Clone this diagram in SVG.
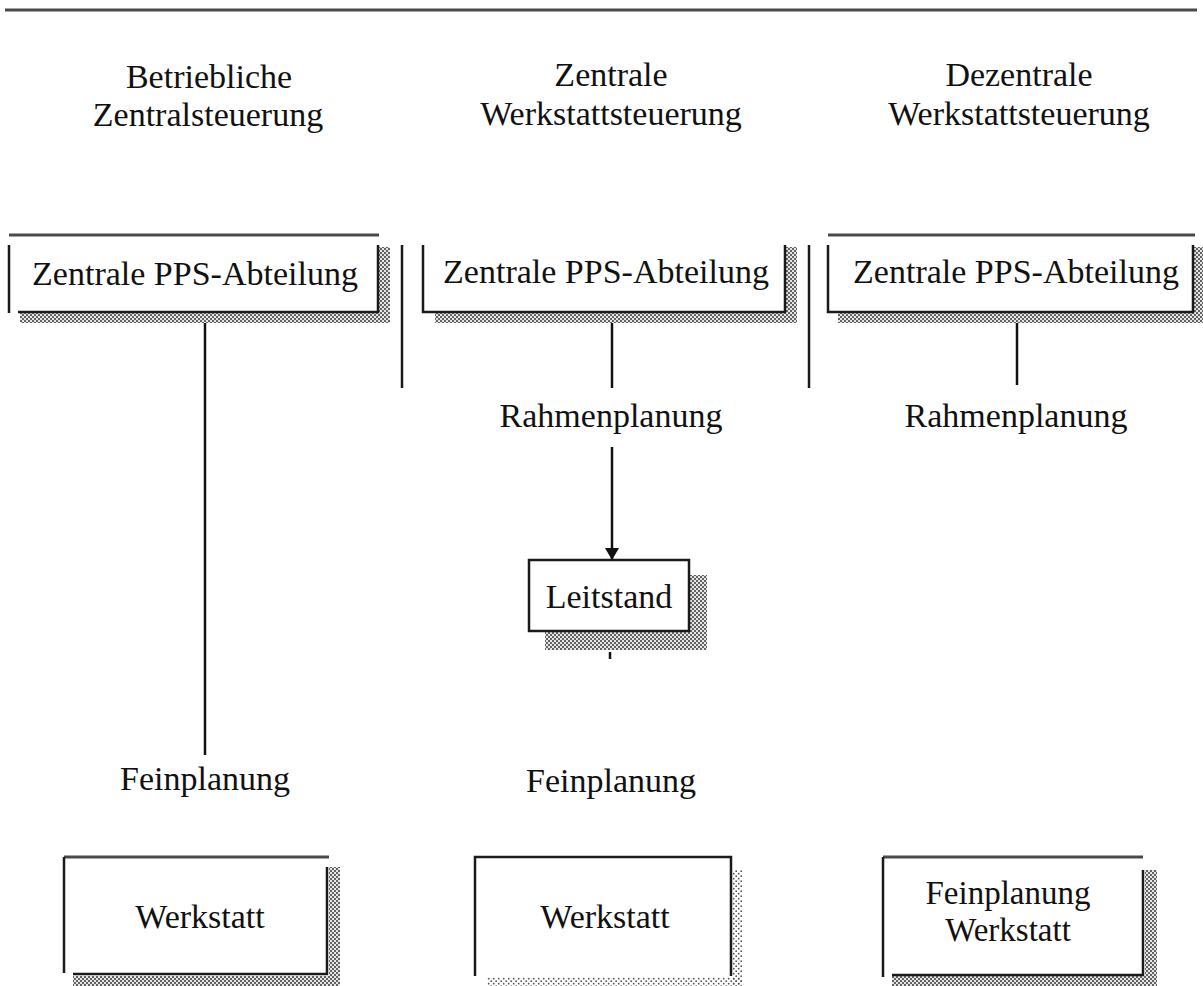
<svg xmlns="http://www.w3.org/2000/svg" width="1203" height="986" viewBox="0 0 1203 986">
  <style>
    text { font-family: "Liberation Serif", "Times New Roman", serif; font-size: 34px; fill: #111; text-anchor: middle; }
    .edge { stroke: #1a1a1a; stroke-width: 2.5; fill: none; stroke-linecap: butt; }
    .rule { stroke: #4a4a4a; stroke-width: 3; fill: none; }
    .sep { stroke: #1a1a1a; stroke-width: 2.5; fill: none; }
    .link { stroke: #111; stroke-width: 2.5; fill: none; }
    .shade { fill: url(#dots); }
    .shade-light { fill: url(#dotsLight); }
    .two-line { font-size: 33px; }
  </style>
  <defs>
    <pattern id="dots" width="4" height="4" patternUnits="userSpaceOnUse">
      <rect width="4" height="4" fill="#e6e6e6"/>
      <circle cx="1" cy="1" r="0.95" fill="#2a2a2a"/>
      <circle cx="3" cy="3" r="0.95" fill="#2a2a2a"/>
    </pattern>
    <pattern id="dotsLight" width="5" height="5" patternUnits="userSpaceOnUse">
      <circle cx="1.2" cy="1.2" r="0.9" fill="#555"/>
      <circle cx="3.7" cy="3.7" r="0.9" fill="#555"/>
    </pattern>
    <marker id="arrow" viewBox="0 0 12 20" refX="12" refY="10" markerWidth="12" markerHeight="20" markerUnits="userSpaceOnUse" orient="auto">
      <path d="M0,3 L12,10 L0,17 Z" fill="#111"/>
    </marker>
  </defs>

  <!-- page rule -->
  <line class="rule" x1="5" y1="10" x2="1197" y2="10"/>

  <!-- column headings -->
  <g id="heading-left">
    <text x="209" y="88">Betriebliche</text>
    <text x="208" y="126">Zentralsteuerung</text>
  </g>
  <g id="heading-middle">
    <text x="611" y="86">Zentrale</text>
    <text x="611" y="125">Werkstattsteuerung</text>
  </g>
  <g id="heading-right">
    <text x="1019" y="86">Dezentrale</text>
    <text x="1019" y="125">Werkstattsteuerung</text>
  </g>

  <!-- column separators -->
  <g id="separators">
    <line class="sep" x1="402" y1="245" x2="402" y2="388"/>
    <line class="sep" x1="809" y1="245" x2="809" y2="388"/>
  </g>

  <!-- connectors -->
  <g id="connectors">
    <line class="link" x1="205" y1="312" x2="205" y2="755"/>
    <line class="link" x1="612" y1="322" x2="612" y2="388"/>
    <line class="link" x1="1017" y1="322" x2="1017" y2="385"/>
    <line class="link" x1="612" y1="447" x2="612" y2="560" marker-end="url(#arrow)"/>
    <line class="link" x1="610" y1="652" x2="610" y2="659"/>
  </g>

  <!-- top row: central PPS departments -->
  <g id="pps-left">
    <rect class="shade" x="379" y="247" width="11" height="76"/>
    <rect class="shade" x="20" y="313" width="370" height="10"/>
    <line class="rule" x1="9" y1="235" x2="379" y2="235"/>
    <path class="edge" d="M9,245 V313 M18,312 H378 V245"/>
    <text x="195" y="285">Zentrale PPS-Abteilung</text>
  </g>
  <g id="pps-middle">
    <rect class="shade" x="786" y="247" width="11" height="76"/>
    <rect class="shade" x="435" y="313" width="362" height="10"/>
    <path class="edge" d="M423,245 V312 H785 V245"/>
    <text x="606" y="283">Zentrale PPS-Abteilung</text>
  </g>
  <g id="pps-right">
    <rect class="shade" x="1193" y="247" width="10" height="76"/>
    <rect class="shade" x="838" y="313" width="365" height="10"/>
    <line class="rule" x1="828" y1="235" x2="1195" y2="235"/>
    <path class="edge" d="M828,245 V312 H1193 V245"/>
    <text x="1016" y="283">Zentrale PPS-Abteilung</text>
  </g>

  <!-- planning labels -->
  <g id="rahmen-middle"><text x="611" y="427">Rahmenplanung</text></g>
  <g id="rahmen-right"><text x="1016" y="427">Rahmenplanung</text></g>
  <g id="fein-left"><text x="205" y="790">Feinplanung</text></g>
  <g id="fein-middle"><text x="611" y="792">Feinplanung</text></g>

  <!-- control station -->
  <g id="leitstand">
    <rect class="shade" x="690" y="575" width="17" height="75"/>
    <rect class="shade" x="545" y="632" width="162" height="18"/>
    <rect x="529" y="560" width="160" height="71" fill="#fff" stroke="#1a1a1a" stroke-width="2.5"/>
    <text x="609" y="608">Leitstand</text>
  </g>

  <!-- workshops -->
  <g id="werkstatt-left">
    <rect class="shade" x="329" y="867" width="11" height="119"/>
    <rect class="shade" x="73" y="976" width="267" height="10"/>
    <line class="rule" x1="64" y1="857" x2="329" y2="857"/>
    <path class="edge" d="M64,857 V973 M73,974 H327 V867"/>
    <text x="200" y="928">Werkstatt</text>
  </g>
  <g id="werkstatt-middle">
    <rect class="shade-light" x="733" y="870" width="9" height="116"/>
    <rect class="shade-light" x="487" y="977" width="255" height="9"/>
    <path class="edge" d="M475,976 V857 H731 V976" stroke="#444"/>
    <text x="605" y="928">Werkstatt</text>
  </g>
  <g id="werkstatt-right">
    <rect class="shade" x="1145" y="870" width="12" height="116"/>
    <rect class="shade" x="892" y="976" width="265" height="10"/>
    <line class="rule" x1="883" y1="857" x2="1143" y2="857"/>
    <path class="edge" d="M883,857 V977 M892,975 H1143 V870"/>
    <text class="two-line" x="1008" y="904">Feinplanung</text>
    <text class="two-line" x="1008" y="941">Werkstatt</text>
  </g>
</svg>
